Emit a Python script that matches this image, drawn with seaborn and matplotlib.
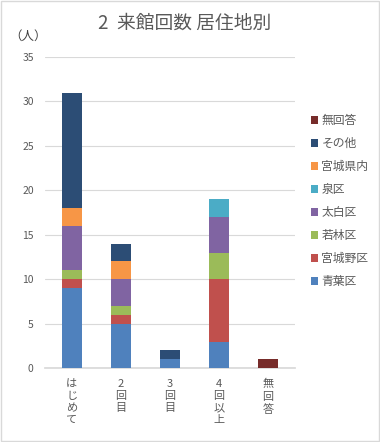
import matplotlib
matplotlib.use("Agg")
import matplotlib.pyplot as plt
import seaborn as sns
import pandas as pd
import numpy as np
from matplotlib.patches import Patch

categories = ["はじめて", "2回目", "3回目", "4回以上", "無回答"]
tick_labels = ["は\nじ\nめ\nて", "2\n回\n目", "3\n回\n目", "4\n回\n以\n上", "無\n回\n答"]
series_names = ["青葉区", "宮城野区", "若林区", "太白区", "泉区", "宮城県内", "その他", "無回答"]
aoba = [9, 5, 1, 3, 0]
miyagino = [1, 1, 0, 7, 0]
wakabayashi = [1, 1, 0, 3, 0]
taihaku = [5, 3, 0, 4, 0]
izumi = [0, 0, 0, 2, 0]
kennai = [2, 2, 0, 0, 0]
sonota = [13, 2, 1, 0, 0]
mukaito = [0, 0, 0, 0, 1]
colors = ["#4F81BD", "#C0504D", "#9BBB59", "#8064A2", "#4BACC6", "#F79646", "#2C4D75", "#772C2A"]

series_values = [aoba, miyagino, wakabayashi, taihaku, izumi, kennai, sonota, mukaito]

sns.set_theme(style="white")
plt.rcParams['font.family'] = ['Noto Sans CJK JP', 'DejaVu Sans']

fig = plt.figure(figsize=(3.8, 4.42), dpi=100)
ax = fig.add_axes([0.118, 0.167, 0.658, 0.704])

bottom = np.zeros(len(categories))
for name, vals, c in zip(series_names, series_values, colors):
    df = pd.DataFrame({"cat": categories, "val": vals})
    sns.barplot(data=df, x="cat", y="val", order=categories, bottom=bottom,
                color=c, width=0.4, ax=ax, saturation=1, errorbar=None, zorder=3,
                linewidth=0, edgecolor="none")
    bottom = bottom + np.array(vals, dtype=float)

ax.set_ylim(0, 35)
ax.set_yticks(range(0, 36, 5))
ax.set_xlim(-0.55, 4.55)
ax.grid(axis="y", color="#D9D9D9", linewidth=0.8, zorder=0)
ax.set_axisbelow(True)
for s in ["top", "right", "left"]:
    ax.spines[s].set_visible(False)
ax.spines["bottom"].set_color("#D9D9D9")
ax.set_xlabel("")
ax.set_ylabel("")
ax.set_xticks(range(len(categories)))
ax.set_xticklabels(tick_labels, fontsize=8, color="#595959", va="top", linespacing=1.25)
ax.tick_params(axis="y", labelsize=7.5, labelcolor="#595959", length=0, pad=8)
ax.tick_params(axis="x", length=0, pad=8)

fig.text(0.485, 0.948, "2  来館回数 居住地別", ha="center", va="center", fontsize=13.5, color="#595959")
fig.text(0.025, 0.918, "（人）", ha="left", va="center", fontsize=9, color="#404040")

handles = [Patch(facecolor=c, edgecolor="none") for c in colors][::-1]
labels = series_names[::-1]
fig.legend(handles, labels, loc="center left", bbox_to_anchor=(0.79, 0.545), frameon=False,
           fontsize=8.5, handlelength=0.6, handleheight=0.6, handletextpad=0.3,
           labelspacing=0.85, labelcolor="#595959")

border = plt.Rectangle((0.002, 0.002), 0.996, 0.996, transform=fig.transFigure,
                       fill=False, edgecolor="#D9D9D9", linewidth=1)
fig.patches.append(border)

fig.savefig("out.png", dpi=100)
